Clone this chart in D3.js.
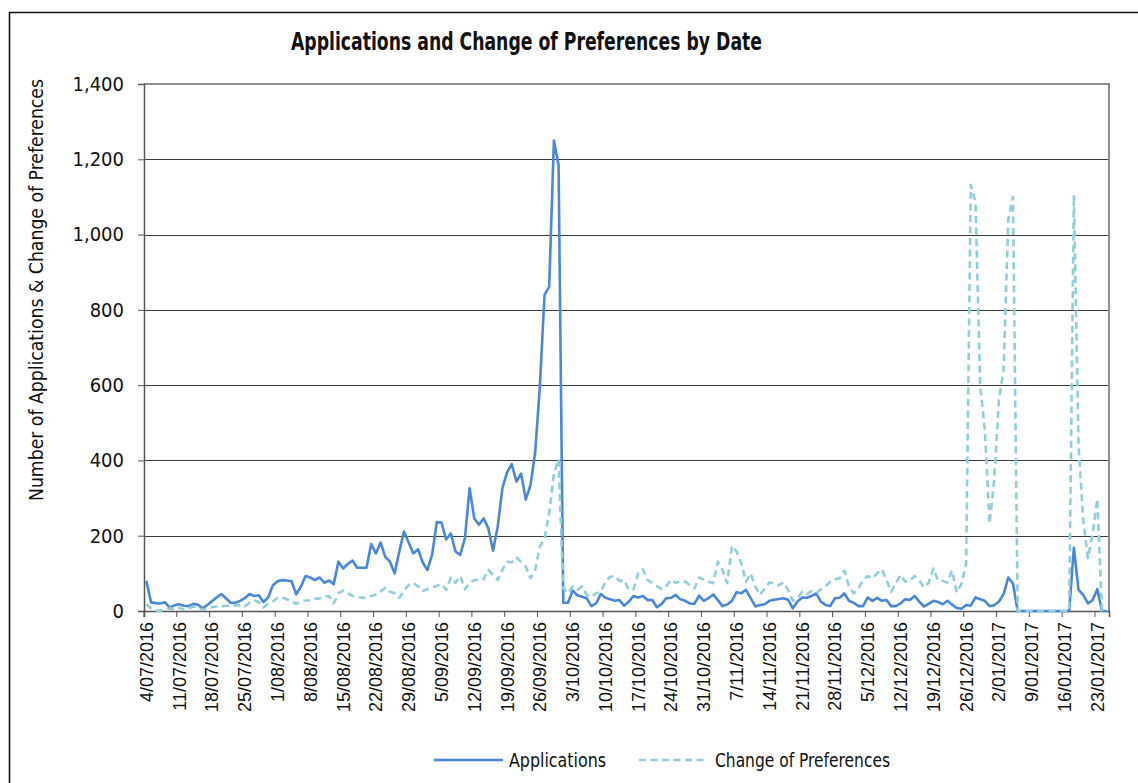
<!DOCTYPE html>
<html>
<head>
<meta charset="utf-8">
<script src="https://cdn.jsdelivr.net/npm/d3@7/dist/d3.min.js"></script>
<style>
  body { margin: 0; background: #fff; }
  svg { display: block; }
  .narrow { font-family: "Liberation Sans Narrow", "DejaVu Sans Condensed", "Liberation Sans", sans-serif; fill: #111; }
  .xlab { font-family: "Liberation Sans", Arial, sans-serif; font-size: 18px; fill: #111; }
</style>
</head>
<body>
<svg id="chart" width="1138" height="783"></svg>
<script>
// daily values, 4/07/2016 .. 25/01/2017
var applications = [
  80, 23, 21, 20, 23, 9, 15, 18, 14, 13, 19, 17, 7, 16, 26, 36, 45, 34, 22, 22,
  27, 34, 45, 40, 42, 24, 36, 68, 79, 82, 81, 79, 44, 65, 93, 89, 82, 89, 75, 81,
  71, 131, 113, 125, 134, 115, 115, 115, 178, 153, 182, 144, 131, 100, 158, 211, 182, 153, 164, 129,
  109, 149, 236, 235, 190, 206, 158, 149, 193, 326, 246, 229, 246, 220, 160, 224, 326, 368, 390, 344,
  365, 296, 334, 421, 596, 840, 862, 1250, 1185, 22, 22, 54, 42, 38, 34, 13, 20, 45, 35, 31,
  27, 29, 14, 25, 40, 36, 40, 29, 29, 10, 19, 34, 35, 43, 31, 27, 20, 19, 41, 27,
  34, 44, 29, 13, 17, 27, 50, 47, 56, 34, 12, 16, 18, 27, 30, 32, 34, 30, 7, 25,
  36, 35, 40, 47, 25, 16, 13, 34, 35, 47, 27, 22, 13, 13, 36, 27, 35, 27, 29, 13,
  13, 20, 31, 29, 40, 25, 12, 19, 27, 24, 18, 27, 17, 8, 6, 16, 14, 36, 31, 27,
  13, 15, 25, 45, 89, 73, 0, 0, 0, 0, 0, 0, 0, 0, 0, 0, 0, 0, 168, 56,
  43, 20, 29, 58, 0, 0
];
var changePrefs = [
  18, 7, 1, 1, 3, 7, 4, 9, 4, 7, 12, 10, 3, 7, 10, 12, 12, 14, 14, 15,
  15, 12, 22, 29, 24, 9, 20, 25, 35, 36, 31, 26, 19, 26, 28, 28, 33, 33, 38, 40,
  20, 47, 54, 47, 40, 38, 35, 35, 40, 44, 52, 62, 51, 47, 35, 54, 69, 75, 65, 53,
  58, 62, 67, 72, 56, 89, 75, 93, 58, 74, 82, 82, 84, 109, 96, 82, 109, 131, 129, 142,
  131, 118, 87, 109, 171, 193, 260, 366, 403, 60, 47, 65, 56, 66, 43, 38, 47, 51, 78, 91,
  93, 80, 82, 56, 58, 100, 111, 82, 75, 66, 58, 66, 84, 75, 78, 78, 69, 60, 89, 84,
  78, 74, 131, 109, 74, 173, 158, 127, 78, 100, 65, 43, 60, 76, 73, 68, 76, 56, 27, 34,
  51, 45, 53, 47, 58, 66, 78, 84, 87, 107, 65, 47, 60, 82, 93, 87, 100, 111, 82, 51,
  74, 96, 78, 81, 93, 81, 63, 75, 113, 81, 80, 76, 108, 49, 72, 125, 1132, 1085, 600, 480,
  232, 350, 560, 640, 1040, 1100, 0, 0, 0, 0, 0, 0, 0, 0, 0, 0, 0, 0, 1105, 440,
  240, 140, 205, 298, 0, 0
];
var tickLabels = [
  "4/07/2016", "11/07/2016", "18/07/2016", "25/07/2016", "1/08/2016", "8/08/2016",
  "15/08/2016", "22/08/2016", "29/08/2016", "5/09/2016", "12/09/2016", "19/09/2016",
  "26/09/2016", "3/10/2016", "10/10/2016", "17/10/2016", "24/10/2016", "31/10/2016",
  "7/11/2016", "14/11/2016", "21/11/2016", "28/11/2016", "5/12/2016", "12/12/2016",
  "19/12/2016", "26/12/2016", "2/01/2017", "9/01/2017", "16/01/2017", "23/01/2017"
];
var yTicks = [0, 200, 400, 600, 800, 1000, 1200, 1400];
var seriesNames = ["Applications", "Change of Preferences"];

var days = d3.timeDay.range(new Date(2016, 6, 4), new Date(2017, 0, 26));

var svg = d3.select("#chart");
var margin = {top: 84, right: 29, bottom: 172, left: 144};
var width = 1138 - margin.left - margin.right,
    height = 783 - margin.top - margin.bottom;

// outer frame (clipped at right and bottom like the picture)
svg.append("path")
  .attr("d", "M9.5,790V12.5H1145")
  .attr("fill", "none").attr("stroke", "#111").attr("stroke-width", 1.6);

var g = svg.append("g").attr("transform", "translate(" + margin.left + "," + margin.top + ")");

var x = d3.scaleBand()
  .domain(days)
  .range([0, width])
  .padding(0);
var bw = x.bandwidth();
var cx = function(i) { return x(days[i]) + bw / 2; };

var y = d3.scaleLinear().domain([0, 1400]).range([height, 0]);

// gridlines
g.append("g")
  .selectAll("line")
  .data(yTicks.filter(function(d) { return d > 0 && d < 1400; }))
  .enter().append("line")
  .attr("x1", 0).attr("x2", width)
  .attr("y1", function(d) { return Math.round(y(d)) + 0.5; })
  .attr("y2", function(d) { return Math.round(y(d)) + 0.5; })
  .attr("stroke", "#3c3c3c").attr("stroke-width", 1.2);

// plot border top/right
g.append("path")
  .attr("d", "M0," + 0 + "H" + width + "V" + height)
  .attr("fill", "none").attr("stroke", "#8c8c8c").attr("stroke-width", 2);

// y axis
var yAxis = d3.axisLeft(y)
  .tickValues(yTicks)
  .tickSize(6)
  .tickPadding(14)
  .tickFormat(d3.format(","));
var ya = g.append("g").call(yAxis);
ya.select(".domain").attr("stroke", "#555").attr("stroke-width", 1.5);
ya.selectAll(".tick line").attr("stroke", "#555");
ya.selectAll(".tick text")
  .attr("class", "narrow")
  .style("font-size", "20px");

// x axis
var tickIdx = d3.range(0, days.length, 7);
var xAxis = d3.axisBottom(x)
  .tickValues(tickIdx.map(function(i) { return days[i]; }))
  .tickSize(6)
  .tickFormat(function(d, k) { return tickLabels[k]; });
var xa = g.append("g").attr("transform", "translate(0," + height + ")").call(xAxis);
xa.select(".domain").attr("stroke", "#555").attr("stroke-width", 1.5);
xa.selectAll(".tick line")
  .attr("stroke", "#555")
  .attr("x1", -bw / 2).attr("x2", -bw / 2);
xa.selectAll(".tick text")
  .attr("class", "xlab")
  .attr("transform", "rotate(-90)")
  .attr("text-anchor", "end")
  .attr("x", -11)
  .attr("y", 0)
  .attr("dy", "0.36em");

// lines
var line = d3.line()
  .x(function(d, i) { return cx(i); })
  .y(function(d) { return y(d); });

g.append("path")
  .datum(applications)
  .attr("d", line)
  .attr("fill", "none")
  .attr("stroke", "#4a87d6")
  .attr("stroke-width", 2.6)
  .attr("stroke-linejoin", "round");

g.append("path")
  .datum(changePrefs)
  .attr("d", line)
  .attr("fill", "none")
  .attr("stroke", "#92cddc")
  .attr("stroke-width", 2.6)
  .attr("stroke-dasharray", "7,4.5")
  .attr("stroke-linejoin", "round");

// title
svg.append("text")
  .attr("class", "narrow")
  .attr("x", 291).attr("y", 50)
  .attr("textLength", 471)
  .attr("lengthAdjust", "spacingAndGlyphs")
  .style("font-size", "25px")
  .style("font-weight", "bold")
  .text("Applications and Change of Preferences by Date");

// y title
svg.append("text")
  .attr("class", "narrow")
  .attr("transform", "translate(43,290) rotate(-90)")
  .attr("text-anchor", "middle")
  .attr("textLength", 422)
  .attr("lengthAdjust", "spacingAndGlyphs")
  .style("font-size", "20px")
  .text("Number of Applications & Change of Preferences");

// legend
var legend = svg.append("g");
legend.append("line")
  .attr("x1", 434).attr("x2", 503).attr("y1", 760).attr("y2", 760)
  .attr("stroke", "#4a87d6").attr("stroke-width", 2.6);
legend.append("text")
  .attr("class", "narrow")
  .attr("x", 509).attr("y", 767)
  .attr("textLength", 97).attr("lengthAdjust", "spacingAndGlyphs")
  .style("font-size", "20px")
  .text(seriesNames[0]);
legend.append("line")
  .attr("x1", 639).attr("x2", 708).attr("y1", 760).attr("y2", 760)
  .attr("stroke", "#92cddc").attr("stroke-width", 2.6)
  .attr("stroke-dasharray", "7,4.5");
legend.append("text")
  .attr("class", "narrow")
  .attr("x", 715).attr("y", 767)
  .attr("textLength", 175).attr("lengthAdjust", "spacingAndGlyphs")
  .style("font-size", "20px")
  .text(seriesNames[1]);
</script>
</body>
</html>
